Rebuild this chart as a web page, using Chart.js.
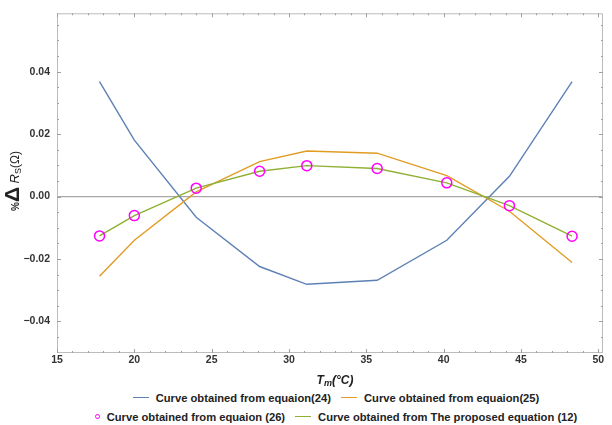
<!DOCTYPE html>
<html>
<head>
<meta charset="utf-8">
<script src="https://cdn.jsdelivr.net/npm/chart.js@4.4.1/dist/chart.umd.min.js"></script>
<style>
    body { margin: 0; background: #fff; }
    #wrap { position: relative; width: 612px; height: 425px; }
    #chart { position: absolute; left: 0; top: 0; }
    #legend { position: absolute; left: 60px; top: 388px; width: 552px;
              font: bold 11.2px "Liberation Sans", Arial, sans-serif; color: #222; }
    .row { display: flex; justify-content: center; height: 19px; align-items: center; }
    .item { display: flex; align-items: center; margin: 0 5px; }
    .line { display: inline-block; width: 16px; height: 1.5px; margin-right: 7px; }
    .dot { display: inline-block; width: 3px; height: 3px; border: 1.5px solid #ff00ff; border-radius: 50%; margin-right: 7px; }
</style>
</head>
<body>
<div id="wrap">
    <canvas id="chart" width="612" height="388"></canvas>
    <div id="legend"></div>
</div>
<script>
// temperatures T_m (°C)
const temps = [17.75, 20, 24, 28.1, 31.15, 35.7, 40.2, 44.25, 48.3];
// % delta R_s values per curve
const eq24 = [0.0368, 0.0181, -0.0066, -0.0224, -0.0281, -0.0268, -0.0140, 0.0065, 0.0368];
const eq25 = [-0.0255, -0.0140, 0.0015, 0.0112, 0.0146, 0.0139, 0.0067, -0.0047, -0.0211];
const eq26 = [-0.0126, -0.0061, 0.0027, 0.0081, 0.0099, 0.0090, 0.0044, -0.0029, -0.0127];
const eq12 = [-0.0126, -0.0061, 0.0027, 0.0081, 0.0099, 0.0090, 0.0044, -0.0029, -0.0127];

const xTicks = [15, 20, 25, 30, 35, 40, 45, 50];
const yTicks = [-0.04, -0.02, 0, 0.02, 0.04];

const labels = [
    'Curve obtained from equaion(24)',
    'Curve obtained from equaion(25)',
    'Curve obtained from equaion (26)',
    'Curve obtained from The proposed equation (12)'
];
const colors = ['#5e81b5', '#e19c24', '#ff00ff', '#8fb032'];

const pts = arr => arr.map((v, i) => ({ x: temps[i], y: v }));
const tickFont = { family: '"Liberation Sans", Arial, sans-serif', size: 10.5, weight: 'bold' };

function lineSet(label, data, color, order) {
    return {
        label: label,
        data: pts(data),
        showLine: true,
        borderColor: color,
        borderWidth: 1.4,
        pointRadius: 0,
        tension: 0,
        order: order
    };
}

// frame, zero line and inside ticks like the original plot
const framePlugin = {
    id: 'frame',
    beforeDatasetsDraw(chart) {
        const { ctx, chartArea: a, scales: { x, y } } = chart;
        ctx.save();
        // zero line
        const y0 = y.getPixelForValue(0);
        ctx.strokeStyle = '#a8a8a8';
        ctx.lineWidth = 1.2;
        ctx.beginPath();
        ctx.moveTo(a.left, y0);
        ctx.lineTo(a.right, y0);
        ctx.stroke();

        ctx.strokeStyle = '#bcbcbc';
        ctx.lineWidth = 1;
        ctx.strokeRect(a.left + 0.5, a.top + 0.5, a.right - a.left - 1, a.bottom - a.top - 1);

        ctx.strokeStyle = '#a0a0a0';
        ctx.beginPath();
        for (let v = 15; v <= 50; v += 1) {
            const px = Math.round(x.getPixelForValue(v)) + 0.5;
            const len = v % 5 === 0 ? 4 : 2;
            ctx.moveTo(px, a.bottom); ctx.lineTo(px, a.bottom - len);
            ctx.moveTo(px, a.top); ctx.lineTo(px, a.top + len);
        }
        for (let k = -10; k <= 11; k++) {
            const v = k * 0.005;
            const py = Math.round(y.getPixelForValue(v)) + 0.5;
            if (py < a.top || py > a.bottom) continue;
            const len = k % 4 === 0 ? 4 : 2;
            ctx.moveTo(a.left, py); ctx.lineTo(a.left + len, py);
            ctx.moveTo(a.right, py); ctx.lineTo(a.right - len, py);
        }
        ctx.stroke();
        ctx.restore();
    },
    afterDraw(chart) {
        const ctx = chart.ctx;
        const fam = '"Liberation Sans", Arial, sans-serif';
        function runs(parts, cx, cy) {
            let w = 0;
            parts.forEach(p => { ctx.font = p.f; w += ctx.measureText(p.t).width; });
            let xx = cx - w / 2;
            parts.forEach(p => {
                ctx.font = p.f;
                ctx.fillText(p.t, xx, cy + (p.dy || 0));
                xx += ctx.measureText(p.t).width;
            });
        }
        ctx.save();
        ctx.fillStyle = '#222';
        ctx.textBaseline = 'alphabetic';
        // x title
        runs([
            { t: 'T', f: 'italic bold 12px ' + fam },
            { t: 'm', f: 'italic bold 9px ' + fam, dy: 2 },
            { t: '(°C)', f: 'italic bold 12px ' + fam }
        ], 335, 384);
        // y title
        ctx.translate(19, 181);
        ctx.rotate(-Math.PI / 2);
        runs([
            { t: '%', f: 'bold 10px ' + fam },
            { t: 'Δ', f: 'bold 21px ' + fam },
            { t: ' R', f: 'italic 13px ' + fam },
            { t: 'S', f: '9px ' + fam, dy: 2 },
            { t: '(Ω)', f: '12px ' + fam }
        ], 0, 0);
        ctx.restore();
    }
};

new Chart(document.getElementById('chart'), {
    type: 'scatter',
    data: {
        datasets: [
            lineSet(labels[0], eq24, colors[0], 4),
            lineSet(labels[1], eq25, colors[1], 3),
            {
                label: labels[2],
                data: pts(eq26),
                showLine: false,
                pointStyle: 'circle',
                pointRadius: 5,
                borderWidth: 1.5,
                borderColor: colors[2],
                backgroundColor: 'rgba(0,0,0,0)',
                order: 0
            },
            lineSet(labels[3], eq12, colors[3], 1)
        ]
    },
    options: {
        responsive: false,
        animation: false,
        layout: { padding: { top: 8, right: 9, left: 0, bottom: 0 } },
        plugins: {
            legend: { display: false },
            tooltip: { enabled: false }
        },
        scales: {
            x: {
                type: 'linear',
                min: 15,
                max: 50.3,
                afterBuildTicks: s => { s.ticks = xTicks.map(v => ({ value: v })); },
                afterFit: s => { s.height = 35; },
                grid: { display: false, drawTicks: false },
                border: { display: false },
                ticks: {
                    font: tickFont,
                    color: '#333',
                    padding: 1,
                    maxRotation: 0,
                    autoSkip: false
                }
            },
            y: {
                min: -0.0501,
                max: 0.0587,
                afterBuildTicks: s => { s.ticks = yTicks.map(v => ({ value: v })); },
                afterFit: s => { s.width = 57; },
                grid: { display: false, drawTicks: false },
                border: { display: false },
                ticks: {
                    font: tickFont,
                    color: '#333',
                    padding: 7,
                    callback: v => v.toFixed(2).replace('-', '\u2212')
                }
            }
        }
    },
    plugins: [framePlugin]
});

// legend below the plot, two rows like the original
const legend = document.getElementById('legend');
const rows = [[0, 1], [2, 3]];
rows.forEach(r => {
    const row = document.createElement('div');
    row.className = 'row';
    r.forEach(i => {
        const item = document.createElement('div');
        item.className = 'item';
        const sym = document.createElement('span');
        if (i === 2) {
            sym.className = 'dot';
        } else {
            sym.className = 'line';
            sym.style.backgroundColor = colors[i];
        }
        item.appendChild(sym);
        item.appendChild(document.createTextNode(labels[i]));
        row.appendChild(item);
    });
    legend.appendChild(row);
});
</script>
</body>
</html>
